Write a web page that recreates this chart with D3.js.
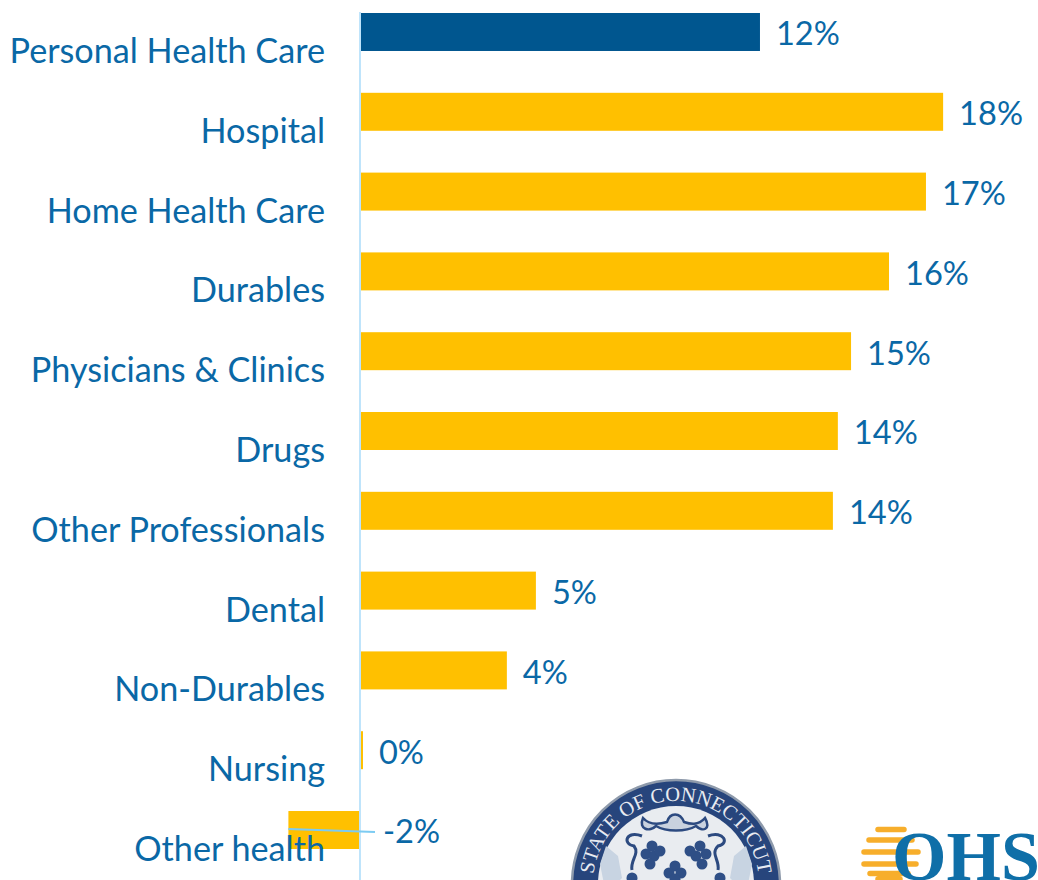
<!DOCTYPE html>
<html lang="en">

<head>
    <meta charset="UTF-8">
    <title>Personal Health Care growth</title>
    <script src="https://cdn.jsdelivr.net/npm/d3@7"></script>
    <style>
        html, body { margin: 0; padding: 0; background: #fff; overflow: hidden; }
        svg { display: block; }
        text { font-family: Lato, "Open Sans", sans-serif; }
    </style>
</head>

<body>
    <svg></svg>
</body>
<script>
    // values, labels as printed
    const categories = ['Personal Health Care', 'Hospital', 'Home Health Care', 'Durables', 'Physicians & Clinics',
        'Drugs', 'Other Professionals', 'Dental', 'Non-Durables', 'Nursing', 'Other health'];
    const growth = [12.09, 17.64, 17.12, 16.0, 14.85, 14.45, 14.3, 5.3, 4.42, 0.06, -2.2];
    const valueLabels = ['12%', '18%', '17%', '16%', '15%', '14%', '14%', '5%', '4%', '0%', '-2%'];
    const sealText = 'STATE OF CONNECTICUT';
    const logoText = 'OHS';

    const width = 1038, height = 880;
    const blue = '#00568F', gold = '#FFC000', textBlue = '#0A68A6';

    const svg = d3.select('svg').attr('width', width).attr('height', height);

    const x = d3.scaleLinear().domain([0, 18]).range([361, 361 + 33 * 18]);
    const y = d3.scaleBand().domain(categories).range([13, 849]).paddingInner(0.524).paddingOuter(0);

    // bars
    svg.append('g')
        .selectAll('rect')
        .data(categories)
        .join('rect')
        .attr('x', (d, i) => Math.min(x(0), x(growth[i])))
        .attr('y', d => y(d))
        .attr('width', (d, i) => Math.abs(x(growth[i]) - x(0)))
        .attr('height', y.bandwidth())
        .attr('fill', (d, i) => i === 0 ? blue : gold);

    // category axis, labels sit lower than the bars like in the slide
    const axis = svg.append('g')
        .attr('transform', 'translate(360,0)')
        .call(d3.axisLeft(y).tickSize(0).tickPadding(35));
    axis.select('.domain').remove();
    axis.selectAll('text')
        .attr('fill', textBlue)
        .attr('font-size', 34.2)
        .attr('dy', '0.35em')
        .attr('transform', 'translate(0,19)');

    svg.append('line')
        .attr('x1', 360).attr('x2', 360).attr('y1', 12).attr('y2', height)
        .attr('stroke', '#BFE4FB').attr('stroke-width', 2);

    // leader line of the negative bar
    const last = categories[categories.length - 1];
    svg.append('line')
        .attr('x1', x(growth[growth.length - 1])).attr('x2', 375)
        .attr('y1', y(last) + y.bandwidth() / 2 - 1).attr('y2', y(last) + y.bandwidth() / 2 + 2)
        .attr('stroke', '#7CCBF2').attr('stroke-width', 1.8);

    // value labels
    svg.append('g')
        .selectAll('text')
        .data(categories)
        .join('text')
        .attr('x', (d, i) => growth[i] < 0 ? 383 : x(growth[i]) + 16)
        .attr('y', d => y(d) + y.bandwidth() / 2 + 2)
        .attr('dy', '0.35em')
        .attr('fill', textBlue)
        .attr('font-size', 32.6)
        .text((d, i) => valueLabels[i]);

    // state seal, cut off by the bottom of the slide
    const seal = svg.append('g').attr('transform', 'translate(676,884)');
    seal.append('circle').attr('r', 104).attr('fill', '#27457C').attr('stroke', '#8E9AAB').attr('stroke-width', 2.5);
    seal.append('circle').attr('r', 78).attr('fill', '#E9ECF0');
    seal.append('path').attr('id', 'sealArc').attr('d', 'M-82.6,8A83,83 0 1 1 82.6,8').attr('fill', 'none');
    seal.append('text')
        .attr('fill', '#E8EBF1').attr('font-size', 20.5)
        .attr('text-anchor', 'middle')
        .style('font-family', '"Liberation Serif", serif')
        .append('textPath').attr('href', '#sealArc').attr('startOffset', '50%')
        .text(sealText);
    // crest scroll and shield sides
    seal.append('path')
        .attr('d', 'M-33,-66C-38,-54 -26,-52 -20,-58C-10,-52 10,-52 20,-58C26,-52 36,-54 29,-66C22,-58 14,-60 8,-62C4,-72 -6,-72 -9,-62C-16,-60 -26,-58 -33,-66Z')
        .attr('fill', '#C9D2DF').attr('stroke', '#2C4A80').attr('stroke-width', 2.5);
    seal.append('path')
        .attr('d', 'M-34,-48C-50,-54 -54,-40 -42,-38C-36,-30 -46,-24 -44,-14M32,-48C48,-54 54,-40 42,-38C34,-30 44,-24 42,-14')
        .attr('fill', 'none').attr('stroke', '#2C4A80').attr('stroke-width', 3);
    // grape clusters
    seal.selectAll('.vine')
        .data([[-24, -38], [-30, -30], [-22, -28], [-26, -20], [-16, -33],
            [24, -38], [30, -30], [20, -28], [26, -20], [14, -33],
            [-1, -18], [-7, -11], [5, -11], [-1, -5], [-44, -6], [44, -6]])
        .join('circle')
        .attr('class', 'vine')
        .attr('cx', d => d[0]).attr('cy', d => d[1])
        .attr('r', 5.5)
        .attr('fill', '#2F4F86');
    seal.selectAll('.ribbon')
        .data([-1, 1])
        .join('path')
        .attr('class', 'ribbon')
        .attr('d', d => `M${d * 70},-38L${d * 58},-28L${d * 54},-6L${d * 60},0L${d * 72},0L${d * 76},-20Z`)
        .attr('fill', '#C8D4E2');

    // OHS logo, striped sun behind the O
    svg.append('path')
        .attr('d', 'M878,829.5H904M869,840H912M864,852H918M864,864H916M870,873.5H908M878,879H900')
        .attr('fill', 'none')
        .attr('stroke', '#F7AE2B').attr('stroke-width', 5.5).attr('stroke-linecap', 'round');
    svg.append('text')
        .attr('x', 892).attr('y', 880)
        .attr('fill', '#0F6FA8')
        .attr('font-size', 70).attr('font-weight', 700)
        .style('font-family', '"Liberation Serif", serif')
        .text(logoText);
</script>

</html>
